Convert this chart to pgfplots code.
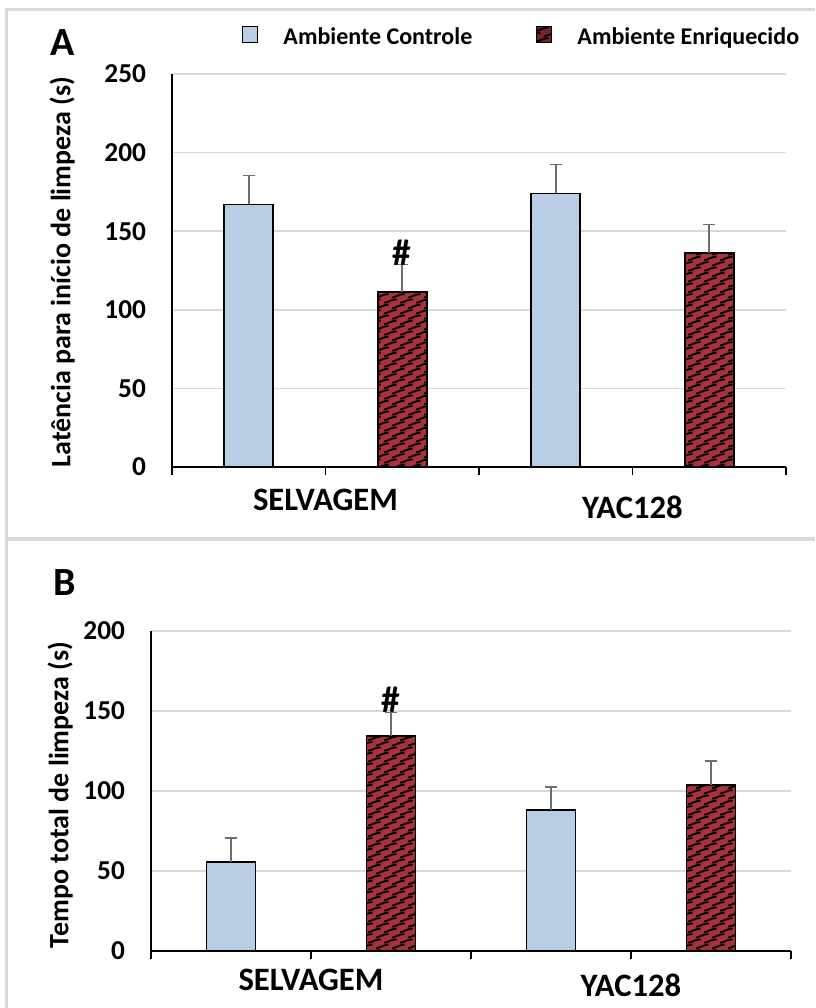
\documentclass[border=0pt]{standalone}
\usepackage{fontspec}
\setmainfont{Carlito}
\usepackage{pgfplots}
\pgfplotsset{compat=1.18}
\usetikzlibrary{patterns}

\definecolor{ctrl}{RGB}{185,205,229}
\definecolor{enr}{RGB}{168,50,60}
\definecolor{gridc}{RGB}{217,217,217}
\definecolor{errc}{RGB}{110,110,110}
\definecolor{framec}{RGB}{217,217,217}

\pgfdeclarepatternformonly{wavy}{\pgfqpoint{-1pt}{-1pt}}{\pgfqpoint{16pt}{9pt}}{\pgfqpoint{12pt}{8pt}}{%
  \pgfsetlinewidth{1.4pt}%
  \pgfsetroundcap
  \pgfpathmoveto{\pgfqpoint{0.5pt}{1.0pt}}%
  \pgfpathcurveto{\pgfqpoint{3pt}{1.0pt}}{\pgfqpoint{5pt}{3.4pt}}{\pgfqpoint{9pt}{3.4pt}}%
  \pgfpathmoveto{\pgfqpoint{6.5pt}{5.0pt}}%
  \pgfpathcurveto{\pgfqpoint{9pt}{5.0pt}}{\pgfqpoint{11pt}{7.4pt}}{\pgfqpoint{15pt}{7.4pt}}%
  \pgfusepath{stroke}%
}

\pgfplotsset{
  panel/.style={
    scale only axis, ybar, bar width=36.75pt, bar shift=0pt,
    xmin=-0.5, xmax=3.5, ymin=0,
    xtick={-0.5,0.5,1.5,2.5,3.5},
    axis x line*=bottom, axis y line*=left,
    axis line style={line width=1.1pt, black},
    x tick style={black, line width=1.1pt},
    major tick length=6pt, tick align=outside,
    y tick style={draw=none},
    ymajorgrids, grid style={gridc, line width=1.2pt},
    /pgf/number format/assume math mode=true,
    yticklabel style={font=\fontsize{20.5}{24}\selectfont\bfseries, anchor=east, xshift=-10pt},
    xticklabel style={font=\fontsize{24.5}{28}\selectfont\bfseries, anchor=base},
    ylabel style={font=\fontsize{21}{24}\selectfont\bfseries, anchor=center},
    clip=false,
  },
  errs/.style={
    error bars/y dir=plus, error bars/y explicit,
    error bars/error bar style={errc, line width=1.2pt},
    error bars/error mark options={errc, line width=1.2pt, mark size=4.5pt, rotate=90},
  },
  ctrlbar/.style={fill=ctrl, draw=black, line width=1.4pt, errs,
    legend image code/.code={\draw[fill=ctrl, draw=black, line width=0.9pt] (0pt,-4pt) rectangle (11pt,8pt);}},
  enrbar/.style={fill=enr, draw=black, line width=1.4pt, postaction={pattern=wavy, pattern color=black}, errs,
    legend image code/.code={\draw[fill=enr!70!black, draw=black, line width=0.9pt] (0pt,-4pt) rectangle (11pt,8pt);}},
}

\begin{document}
\begin{tikzpicture}
\useasboundingbox (0pt,0pt) rectangle (611.25pt,-756pt);
\fill[white] (0pt,0pt) rectangle (611.25pt,-756pt);
% panel frames
\draw[framec, line width=2.25pt] (4.5pt,-756pt) -- (4.5pt,-7pt) -- (611.25pt,-7pt);
\draw[framec, line width=3pt] (4.5pt,-404.25pt) -- (611.25pt,-404.25pt);

% ---------- Panel A ----------
\begin{axis}[panel,
  at={(129pt,-350.25pt)}, anchor=south west,
  width=460.5pt, height=294.75pt,
  ymax=250, ytick={0,50,100,150,200,250},
  xticklabels={,SELVAGEM,,\raisebox{-6pt}{YAC128},},
  xticklabel style={yshift=-26.25pt},
  ylabel={Latência para início de limpeza (s)},
  ylabel style={at={(axis description cs:-0.179,0.496)}},
  legend style={at={(axis description cs:0.1075,1.094)}, anchor=west, draw=none, fill=none,
    legend columns=2, font=\fontsize{18}{21}\selectfont\bfseries,
    /tikz/every odd column/.style={column sep=17pt},
    /tikz/every even column/.style={column sep=46pt}},
]
\addplot[ctrlbar] coordinates {(0,167) +- (0,18.5) (2,174) +- (0,18.5)};
\addlegendentry{Ambiente Controle}
\addplot[enrbar] coordinates {(1,111.3) +- (0,17.5) (3,136.3) +- (0,18)};
\addlegendentry{Ambiente Enriquecido}
\node[font=\fontsize{28}{32}\selectfont\bfseries] at (axis cs:1,136) {\#};
\end{axis}
\node[font=\fontsize{30}{34}\selectfont\bfseries] at (47.25pt,-32.25pt) {A};

% ---------- Panel B ----------
\begin{axis}[panel,
  at={(113.25pt,-713.25pt)}, anchor=south west,
  width=480pt, height=240pt,
  ymax=200, ytick={0,50,100,150,200},
  xticklabels={,SELVAGEM,,\raisebox{-4.5pt}{YAC128},},
  xticklabel style={yshift=-23.25pt},
  ylabel={Tempo total de limpeza (s)},
  ylabel style={at={(axis description cs:-0.142,0.4875)}},
]
\addplot[ctrlbar] coordinates {(0,55.6) +- (0,15) (2,88) +- (0,14.5)};
\addplot[enrbar] coordinates {(1,134.4) +- (0,14.6) (3,103.7) +- (0,15)};
\node[font=\fontsize{28}{32}\selectfont\bfseries] at (axis cs:1,157) {\#};
\end{axis}
\node[font=\fontsize{30}{34}\selectfont\bfseries] at (48.75pt,-437.25pt) {B};
\end{tikzpicture}
\end{document}
